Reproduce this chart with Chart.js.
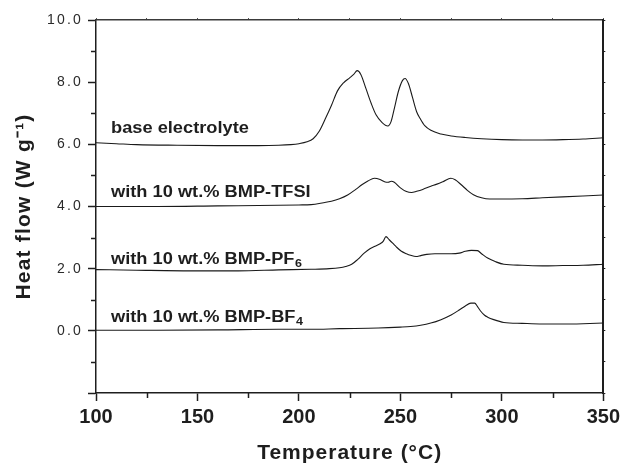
<!DOCTYPE html>
<html><head><meta charset="utf-8">
<script src="https://cdn.jsdelivr.net/npm/chart.js@4.4.1/dist/chart.umd.min.js"></script>
<style>html,body{margin:0;padding:0;background:#fff}canvas{display:block}</style>
</head><body>
<canvas id="c" width="624" height="467" style="width:624px;height:467px"></canvas>
<script>
// ---- data (temperature in °C, heat flow in W g^-1, curves offset as in the figure) ----
const tempBase = [100,110,120,140,160,180,190,196,200,204,207,210,213,216,219,222,225,227,228.7,230.5,233,235.6,238,241,243.8,245.4,247,249,251,252.3,254,256,258,260,262,265,270,275,282,290,300,310,320,330,340,350];
const heatBase = [6.05,6.02,5.99,5.97,5.96,5.96,5.97,5.99,6.02,6.08,6.18,6.42,6.82,7.25,7.72,7.98,8.14,8.25,8.37,8.25,7.8,7.32,6.95,6.7,6.59,6.73,7.15,7.7,8.05,8.12,7.95,7.5,7.05,6.8,6.6,6.45,6.33,6.27,6.22,6.18,6.15,6.14,6.14,6.15,6.17,6.21];

const tempTFSI = [100,130,160,190,200,206,212,216,220,224,228,231,234,237.2,240,242.5,244,245.5,247,250,253,255.5,258,261,265,268,271,274.9,277,280,283,286,290,294,300,310,320,330,340,350];
const heatTFSI = [4.00,4.00,4.02,4.04,4.05,4.06,4.12,4.17,4.25,4.37,4.55,4.70,4.82,4.91,4.87,4.79,4.78,4.81,4.78,4.60,4.48,4.45,4.49,4.55,4.65,4.72,4.80,4.91,4.86,4.70,4.52,4.38,4.28,4.24,4.24,4.25,4.28,4.31,4.34,4.37];

const tempPF6 = [100,120,150,170,190,206,215,220,223,226,229,232,235,237.5,240,241.5,242.9,244.5,246.2,248,250.3,253,255,257.7,260,263,267,275,279,282,285,288,290,293,297,301,310,320,330,340,350];
const heatPF6 = [1.97,1.95,1.93,1.93,1.96,1.98,2.00,2.03,2.07,2.14,2.30,2.49,2.64,2.72,2.80,2.88,3.03,2.93,2.82,2.70,2.57,2.48,2.43,2.39,2.42,2.46,2.48,2.48,2.50,2.56,2.59,2.58,2.48,2.34,2.22,2.14,2.11,2.09,2.10,2.11,2.14];

const tempBF4 = [100,130,160,190,206,220,239,250,255,260,265,270,275,279,282,284.7,286.6,288,289.6,291.5,293,296,301,310,320,330,340,350];
const heatBF4 = [0.02,0.02,0.03,0.05,0.05,0.07,0.09,0.12,0.14,0.18,0.25,0.36,0.51,0.67,0.80,0.89,0.89,0.78,0.63,0.50,0.44,0.36,0.27,0.24,0.22,0.22,0.23,0.25];

const seriesNames = ['base electrolyte', 'with 10 wt.% BMP-TFSI', 'with 10 wt.% BMP-PF6', 'with 10 wt.% BMP-BF4'];
const labelMain = ['base electrolyte', 'with 10 wt.% BMP-TFSI', 'with 10 wt.% BMP-PF', 'with 10 wt.% BMP-BF'];
const labelSub  = ['', '', '6', '4'];

const xMin = 100, xMax = 350, xStep = 50, xMinorStep = 25;
const yMin = -2, yMax = 10, yStep = 2, yMinorStep = 1;
const xTitle = 'Temperature (°C)';
const yTitle = 'Heat flow (W g⁻¹)';

// label anchors (data units)
const labelAnchorX = 107.4;
const labelAnchorY = [6.36, 4.32, 2.15, 0.30];

const FONT = "'Liberation Sans', Arial, Helvetica, sans-serif";
const INK = '#1e1e1e';

function pts(xs, ys){ return xs.map((x,i)=>({x, y: ys[i]})); }
const series = [[tempBase,heatBase],[tempTFSI,heatTFSI],[tempPF6,heatPF6],[tempBF4,heatBF4]];

function withSpacing(scale, method, spacing){
  const key = '_sp_' + method;
  if (scale[key]) return;
  const orig = scale[method];
  scale[method] = function(){
    this.ctx.save();
    this.ctx.letterSpacing = spacing;
    const r = orig.apply(this, arguments);
    this.ctx.restore();
    return r;
  };
  scale[key] = true;
}

const decor = {
  id: 'decor',
  beforeDraw(chart){
    withSpacing(chart.scales.y, 'drawLabels', '2.2px');
    withSpacing(chart.scales.y, 'drawTitle', '1.2px');
    withSpacing(chart.scales.x, 'drawTitle', '1px');
  },
  afterDatasetsDraw(chart){
    const {ctx, scales:{x, y}} = chart;
    ctx.fillStyle = INK;
    ctx.textAlign = 'left';
    ctx.textBaseline = 'alphabetic';
    labelMain.forEach((t, i) => {
      const px = x.getPixelForValue(labelAnchorX);
      const py = y.getPixelForValue(labelAnchorY[i]);
      ctx.save();
      ctx.translate(px, py);
      ctx.scale(1.14, 1);
      ctx.font = `bold 16px ${FONT}`;
      ctx.fillText(t, 0, 0);
      if (labelSub[i]) {
        const w = ctx.measureText(t).width;
        ctx.font = `bold 11px ${FONT}`;
        ctx.fillText(labelSub[i], w + 0.5, 3);
      }
      ctx.restore();
    });
  },
  afterDraw(chart){
    const {ctx, chartArea:a, scales:{x, y}} = chart;
    ctx.save();
    ctx.strokeStyle = INK;
    ctx.lineWidth = 1.5;
    ctx.beginPath();
    for (let v = yMin + yMinorStep; v < yMax; v += yStep) {
      const py = Math.round(y.getPixelForValue(v)) + 0.5;
      ctx.moveTo(a.left - 5, py); ctx.lineTo(a.left, py);
    }
    for (let v = xMin + xMinorStep; v < xMax; v += xStep) {
      const px = Math.round(x.getPixelForValue(v)) + 0.5;
      ctx.moveTo(px, a.bottom); ctx.lineTo(px, a.bottom + 5);
    }
    ctx.stroke();
    ctx.restore();
  }
};

new Chart(document.getElementById('c'), {
  type: 'line',
  data: {
    datasets: series.map((s, i) => ({
      label: seriesNames[i],
      data: pts(s[0], s[1]),
      borderColor: '#1a1a1a',
      borderWidth: 1.1,
      pointRadius: 0,
      fill: false,
      cubicInterpolationMode: 'monotone'
    }))
  },
  options: {
    responsive: false,
    animation: false,
    events: [],
    layout: { padding: 0 },
    plugins: { legend: { display: false }, tooltip: { enabled: false } },
    scales: {
      x: {
        type: 'linear', position: 'bottom', min: xMin, max: xMax,
        ticks: { stepSize: xStep, color: INK, padding: 4, font: { family: FONT, size: 20, weight: 'bold' } },
        grid: { drawOnChartArea: false, drawTicks: true, tickLength: 8, tickColor: INK, tickWidth: 1.5 },
        border: { display: true, color: INK, width: 1.5 },
        title: { display: true, text: xTitle, color: INK, font: { family: FONT, size: 21, weight: 'bold' }, padding: { top: 0, bottom: 1 } },
        afterFit(s){ s.height = 74; }
      },
      y: {
        type: 'linear', position: 'left', min: yMin, max: yMax,
        ticks: { stepSize: yStep, color: '#2a2a2a', padding: 5, font: { family: FONT, size: 14 },
                 callback: v => (v >= 0 ? Number(v).toFixed(1) : '') },
        grid: { drawOnChartArea: false, drawTicks: true, tickLength: 8, tickColor: INK, tickWidth: 1.5 },
        border: { display: true, color: INK, width: 1.5 },
        title: { display: true, text: yTitle, color: INK, font: { family: FONT, size: 21, weight: 'bold' }, padding: { top: 12, bottom: 0 } },
        afterFit(s){ s.width = 96; }
      },
      x2: {
        type: 'linear', position: 'top', min: xMin, max: xMax,
        ticks: { display: false, stepSize: xMinorStep },
        grid: { drawOnChartArea: false, drawTicks: true, tickLength: 2, tickColor: '#555', tickWidth: 1 },
        border: { display: true, color: '#3a3a3a', width: 1.5 },
        afterFit(s){ s.height = 20; }
      },
      y2: {
        type: 'linear', position: 'right', min: yMin, max: yMax,
        ticks: { display: false, stepSize: yMinorStep },
        grid: { drawOnChartArea: false, drawTicks: true, tickLength: 2, tickColor: INK, tickWidth: 1 },
        border: { display: true, color: INK, width: 2 },
        afterFit(s){ s.width = 19; }
      }
    }
  },
  plugins: [decor]
});
</script>
</body></html>
